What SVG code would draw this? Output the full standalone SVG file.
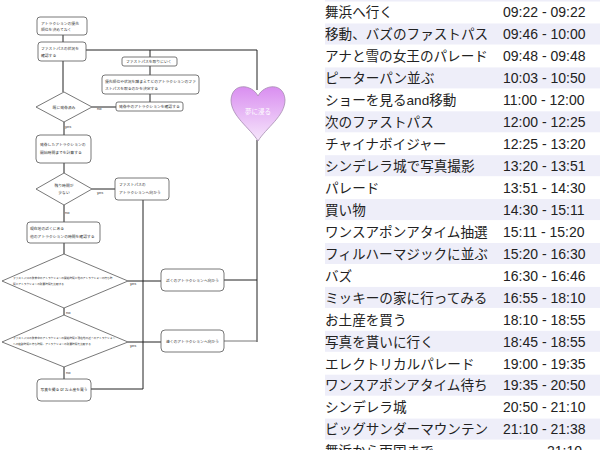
<svg xmlns="http://www.w3.org/2000/svg" width="600" height="450" viewBox="0 0 600 450">
<defs>
<linearGradient id="hg" x1="0" y1="0" x2="0" y2="1">
<stop offset="0" stop-color="#d98ef0"/>
<stop offset="1" stop-color="#f6e6fb"/>
</linearGradient>
<style>
.n{fill:#fff;stroke:#555;stroke-width:0.8}
.c{fill:none;stroke:#222;stroke-width:1}
.g{fill:none;stroke:#777;stroke-width:1}
.t{font-family:"Noto Sans CJK JP",sans-serif;font-size:3.8px;fill:#333}
.s{font-family:"Noto Sans CJK JP",sans-serif;font-size:2.7px;fill:#333}
.l{font-family:"Liberation Sans",sans-serif;font-size:4px;fill:#333}
.band{fill:#eeeef9}
.r{font-family:"Liberation Sans","Noto Sans CJK JP",sans-serif;font-size:14px;fill:#222}
.j{font-size:13.6px}
</style>
</defs>
<rect width="600" height="450" fill="#fff"/>

<g id="connectors">
<path class="c" d="M63,35V42"/>
<path class="c" d="M63,61V92"/>
<path class="c" d="M86,50H257V90"/>
<path class="c" d="M150,50V57"/>
<path class="c" d="M150,66V75"/>
<path class="c" d="M150,94V102"/>
<path class="c" d="M92,107H116"/>
<path class="c" d="M64,122V135"/>
<path class="c" d="M64,163V173"/>
<path class="c" d="M92,189H115"/>
<path class="c" d="M64,205V222"/>
<path class="c" d="M64,243V254"/>
<path class="c" d="M128,281H161"/>
<path class="c" d="M64,308V315"/>
<path class="c" d="M128,342H161"/>
<path class="c" d="M64,367V379"/>
<path class="c" d="M143,200V389H91"/>
<path class="c" d="M257,140V342"/>
<path class="c" d="M224,280H257"/>
<path class="g" d="M224,341H257"/>
<text class="l" x="97" y="110">no</text>
<text class="l" x="65" y="128">yes</text>
<text class="l" x="97" y="194">yes</text>
<text class="l" x="65" y="214">no</text>
<text class="l" x="130" y="285">yes</text>
<text class="l" x="66" y="314">no</text>
<text class="l" x="130" y="347">yes</text>
<text class="l" x="66" y="374">no</text>
</g>

<g id="n1"><rect class="n" x="37" y="17" width="50" height="18" rx="3"/>
<text class="t" x="41" y="25">アトラクションの優先</text><text class="t" x="41" y="31">順位を決めておく</text></g>
<g id="n2"><rect class="n" x="38" y="42" width="48" height="19" rx="3"/>
<text class="t" x="41" y="50">ファストパスの状況を</text><text class="t" x="41" y="57">確認する</text></g>
<g id="n3"><rect class="n" x="122" y="57" width="55" height="9" rx="2"/>
<text class="t" x="126" y="63">ファストパスを取りにいく</text></g>
<g id="n4"><rect class="n" x="102" y="75" width="97" height="19" rx="3"/>
<text class="t" x="105" y="83">優先順位や状況を踏まえてどのアトラクションのファ</text><text class="t" x="105" y="90">ストパスを取るのかを決定する</text></g>
<g id="n5"><rect class="n" x="116" y="102" width="67" height="9" rx="2"/>
<text class="t" x="119" y="108">発券中のアトラクションを確認する</text></g>
<g id="d1"><polygon class="n" points="64,92 92,107 64,122 36,107"/>
<text class="t" x="64" y="108.5" text-anchor="middle">既に発券済み</text></g>
<g id="n6"><rect class="n" x="36" y="135" width="55" height="28" rx="4"/>
<text class="t" x="40" y="146">発券したアトラクションの</text><text class="t" x="40" y="154">開始時間までを計算する</text></g>
<g id="d2"><polygon class="n" points="64,173 92,189 64,205 36,189"/>
<text class="t" x="64" y="187" text-anchor="middle">残り時間が</text><text class="t" x="64" y="194" text-anchor="middle">少ない</text></g>
<g id="n7"><rect class="n" x="115" y="178" width="54" height="22" rx="3"/>
<text class="t" x="119" y="186">ファストパスの</text><text class="t" x="119" y="194">アトラクションへ向かう</text></g>
<g id="n8"><rect class="n" x="27" y="222" width="73" height="21" rx="3"/>
<text class="t" x="30" y="230">現在地の近くにある</text><text class="t" x="30" y="238">他のアトラクションの時間を確認する</text></g>
<g id="d3"><polygon class="n" points="64,254 128,281 64,308 2,281"/>
<text class="s" x="13" y="279">ファストパスの発券中のアトラクションの開始時間と他のアトラクションの待ち時</text><text class="s" x="13" y="285">間とアトラクションの所要時間を比較する</text></g>
<g id="n9"><rect class="n" x="161" y="269" width="63" height="22" rx="4"/>
<text class="t" x="192.5" y="281.5" text-anchor="middle">近くのアトラクションへ向かう</text></g>
<g id="d4"><polygon class="n" points="64,315 128,342 64,367 2,342"/>
<text class="s" x="13" y="339">ファストパスの発券中のアトラクションの開始時間と現在地の近くのアトラクション</text><text class="s" x="13" y="345">への移動時間と待ち時間、アトラクションの所要時間を比較する</text></g>
<g id="n10"><rect class="n" x="161" y="330" width="63" height="22" rx="4"/>
<text class="t" x="192.5" y="342.5" text-anchor="middle">遠くのアトラクションへ向かう</text></g>
<g id="n11"><rect class="n" x="37" y="379" width="54" height="22" rx="4"/>
<text class="t" x="64" y="391" text-anchor="middle">写真を撮る or お土産を買う</text></g>
<g id="heart"><path d="M258,96 C252,84 232,82 231,100 C231,116 250,128 258,141 C266,128 285,116 285,100 C284,82 264,84 258,96 Z" fill="url(#hg)" stroke="#a58ab0" stroke-width="0.8"/>
<text x="258" y="114" text-anchor="middle" font-family="Noto Sans CJK JP,sans-serif" font-size="6.5" fill="#fff">夢に浸る</text></g>

<g id="table">
<rect class="band" x="325" y="0" width="275" height="1.5"/>
<rect class="band" x="325" y="23.5" width="275" height="21"/>
<rect class="band" x="325" y="67.4" width="275" height="21"/>
<rect class="band" x="325" y="111.3" width="275" height="21"/>
<rect class="band" x="325" y="155.2" width="275" height="21"/>
<rect class="band" x="325" y="199.1" width="275" height="21"/>
<rect class="band" x="325" y="243" width="275" height="21"/>
<rect class="band" x="325" y="286.9" width="275" height="21"/>
<rect class="band" x="325" y="330.8" width="275" height="21"/>
<rect class="band" x="325" y="374.7" width="275" height="21"/>
<rect class="band" x="325" y="418.6" width="275" height="21"/>
<g class="r">
<text class="j" x="325" y="17">舞浜へ行く</text><text x="503" y="17">09:22 - 09:22</text>
<text class="j" x="325" y="39">移動、バズのファストパス</text><text x="503" y="39">09:46 - 10:00</text>
<text class="j" x="325" y="61">アナと雪の女王のパレード</text><text x="503" y="61">09:48 - 09:48</text>
<text class="j" x="325" y="83">ピーターパン並ぶ</text><text x="503" y="83">10:03 - 10:50</text>
<text class="j" x="325" y="105">ショーを見るand移動</text><text x="503" y="105">11:00 - 12:00</text>
<text class="j" x="325" y="127">次のファストパス</text><text x="503" y="127">12:00 - 12:25</text>
<text class="j" x="325" y="149">チャイナボイジャー</text><text x="503" y="149">12:25 - 13:20</text>
<text class="j" x="325" y="171">シンデレラ城で写真撮影</text><text x="503" y="171">13:20 - 13:51</text>
<text class="j" x="325" y="193">パレード</text><text x="503" y="193">13:51 - 14:30</text>
<text class="j" x="325" y="215">買い物</text><text x="503" y="215">14:30 - 15:11</text>
<text class="j" x="325" y="236.5">ワンスアポンアタイム抽選</text><text x="503" y="236.5">15:11 - 15:20</text>
<text class="j" x="325" y="258.5">フィルハーマジックに並ぶ</text><text x="503" y="258.5">15:20 - 16:30</text>
<text class="j" x="325" y="280.5">バズ</text><text x="503" y="280.5">16:30 - 16:46</text>
<text class="j" x="325" y="302.5">ミッキーの家に行ってみる</text><text x="503" y="302.5">16:55 - 18:10</text>
<text class="j" x="325" y="324.5">お土産を買う</text><text x="503" y="324.5">18:10 - 18:55</text>
<text class="j" x="325" y="346.5">写真を貰いに行く</text><text x="503" y="346.5">18:45 - 18:55</text>
<text class="j" x="325" y="368.5">エレクトリカルパレード</text><text x="503" y="368.5">19:00 - 19:35</text>
<text class="j" x="325" y="390">ワンスアポンアタイム待ち</text><text x="503" y="390">19:35 - 20:50</text>
<text class="j" x="325" y="412">シンデレラ城</text><text x="503" y="412">20:50 - 21:10</text>
<text class="j" x="325" y="434">ビッグサンダーマウンテン</text><text x="503" y="434">21:10 - 21:38</text>
<text class="j" x="325" y="456">舞浜から両国まで</text><text x="547" y="456">21:10</text>
</g>
</g>
</svg>
